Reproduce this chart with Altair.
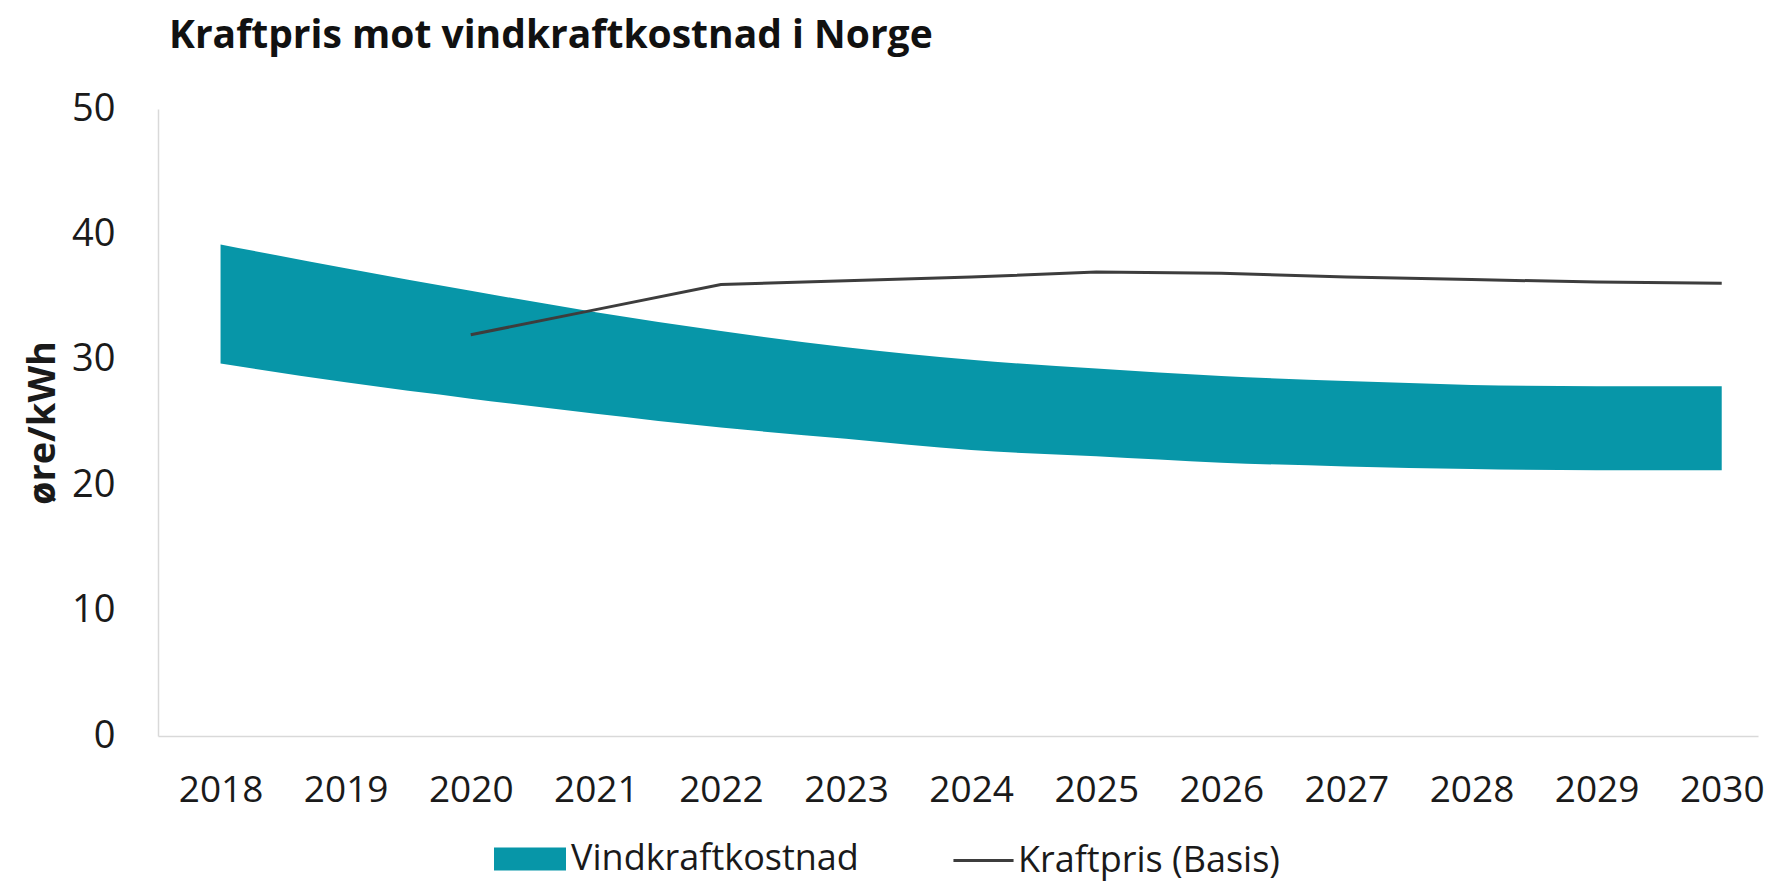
import altair as alt
import pandas as pd

# ---- data ----
years = [2018, 2019, 2020, 2021, 2022, 2023, 2024, 2025, 2026, 2027, 2028, 2029, 2030]
wind_high = [39.2, 37.3, 35.5, 33.8, 32.3, 31.0, 30.0, 29.3, 28.7, 28.3, 28.0, 27.9, 27.9]
wind_low = [29.7, 28.2, 26.9, 25.7, 24.6, 23.7, 22.8, 22.3, 21.8, 21.5, 21.3, 21.2, 21.2]
price_years = [2020, 2021, 2022, 2023, 2024, 2025, 2026, 2027, 2028, 2029, 2030]
price = [32.0, 34.0, 36.0, 36.3, 36.6, 37.0, 36.9, 36.6, 36.4, 36.2, 36.1]
y_ticks = [0, 10, 20, 30, 40, 50]

wind_name = "Vindkraftkostnad"
price_name = "Kraftpris (Basis)"
title_text = "Kraftpris mot vindkraftkostnad i Norge"
y_title = "øre/kWh"

wind_df = pd.DataFrame({"year": years, "high": wind_high, "low": wind_low, "wind": wind_name})
price_df = pd.DataFrame({"year": price_years, "price": price, "pname": price_name})

FONT = "Open Sans"
TXT = "#1a1a1a"
AXC = "#d9d9d9"

x_scale = alt.Scale(domain=[2017.5, 2030.29], nice=False, zero=False)
y_scale = alt.Scale(domain=[0, 50], nice=False)

x_axis = alt.Axis(values=years, format="d", title=None, grid=False, ticks=False, tickSize=0,
                  domainColor=AXC, domainWidth=1.5, labelFont=FONT, labelFontSize=37,
                  labelColor=TXT, labelPadding=36, labelFlush=False)
y_axis = alt.Axis(values=y_ticks, title=y_title, grid=False, ticks=False, tickSize=0,
                  domainColor=AXC, domainWidth=1.5, labelFont=FONT, labelFontSize=38,
                  labelColor=TXT, labelPadding=43, titleFont=FONT, titleFontSize=38,
                  titleFontWeight="bold", titleColor=TXT, titlePadding=9)

area = alt.Chart(wind_df).mark_area(interpolate="monotone").encode(
    x=alt.X("year:Q", scale=x_scale, axis=x_axis),
    y=alt.Y("high:Q", scale=y_scale, axis=y_axis),
    y2="low:Q",
    fill=alt.Fill("wind:N", scale=alt.Scale(domain=[wind_name], range=["#0796a8"]),
                  legend=alt.Legend(title=None, orient="none", legendX=354, legendY=732,
                                    symbolType="M-2,-0.64L2,-0.64L2,0.64L-2,0.64Z",
                                    symbolSize=1296, symbolStrokeWidth=0,
                                    labelFont=FONT, labelFontSize=36, labelColor=TXT,
                                    labelLimit=600, labelOffset=23)),
)

line = alt.Chart(price_df).mark_line(interpolate="linear", strokeWidth=3).encode(
    x=alt.X("year:Q", scale=x_scale),
    y=alt.Y("price:Q", scale=y_scale),
    stroke=alt.Stroke("pname:N", scale=alt.Scale(domain=[price_name], range=["#3d3d3d"]),
                      legend=alt.Legend(title=None, orient="none", legendX=806, legendY=732,
                                        symbolType="M-1.67,0L1.67,0", symbolSize=1296,
                                        symbolStrokeWidth=3,
                                        labelFont=FONT, labelFontSize=36, labelColor=TXT,
                                        labelLimit=600, labelOffset=15)),
)

chart = alt.layer(area, line).properties(
    width=1600,
    height=627,
    padding={"left": 150, "top": 101, "right": 6, "bottom": 147},
    autosize=alt.AutoSizeParams(type="none"),
    title=alt.Title(title_text, anchor="start", frame="group", dx=11, offset=34,
                    fontSize=39, font=FONT, fontWeight="bold", color="#111111"),
    background="white",
).configure_view(stroke=None)

chart.save("out.html", embed_options={"renderer": "svg", "actions": False})
